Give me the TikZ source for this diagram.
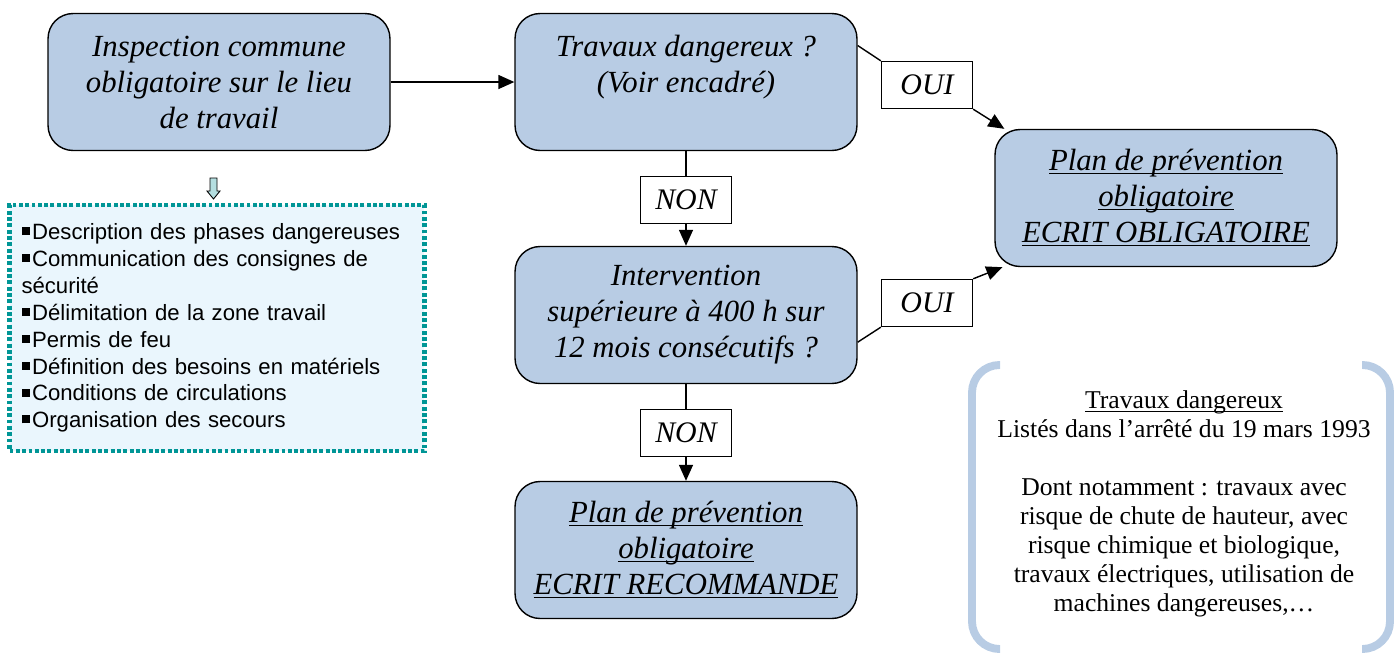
\documentclass[tikz,border=0pt]{standalone}
\usepackage{fontspec}
\setmainfont{Liberation Serif}
\newfontfamily\listfont{Liberation Sans}
\usetikzlibrary{arrows.meta}
\definecolor{boxblue}{RGB}{184,204,228}
\definecolor{listfill}{RGB}{234,246,253}
\definecolor{listline}{RGB}{0,150,150}
\definecolor{notecol}{RGB}{184,204,228}
\definecolor{arrowfill}{RGB}{180,222,224}
\tikzset{
  flowbox/.style={draw,line width=0.8pt,fill=boxblue,rounded corners=0.5cm,
    minimum width=6.84cm,minimum height=2.74cm,align=center,
    font=\itshape\fontsize{17.5}{20.5}\selectfont},
  reply/.style={draw,line width=0.8pt,fill=white,minimum width=1.82cm,
    minimum height=0.94cm,font=\itshape\fontsize{17}{20.5}\selectfont},
  link/.style={line width=0.8pt},
  tip/.style={line width=0.8pt,-{Triangle[length=0.32cm,width=0.28cm]}}
}
\newcommand{\lbul}{\rule[0.2em]{0.36em}{0.36em}\kern1.5pt}
\newcommand{\uln}[1]{\underline{\smash{#1}}\vphantom{#1}}
\begin{document}
\begin{tikzpicture}[x=0.02cm,y=-0.02cm]
  \useasboundingbox (0,0) rectangle (1396,653);
  % flow boxes
  \node[flowbox] (insp) at (219,82) {Inspection commune\\obligatoire sur le lieu\\de travail};
  \node[flowbox] (trav) at (686,82) {Travaux dangereux ?\\(Voir encadré)\\\mbox{}};
  \node[flowbox] (interv) at (686,315) {Intervention\\supérieure à 400 h sur\\12 mois consécutifs ?};
  \node[flowbox] (recom) at (686,550) {\uln{Plan de prévention}\\\uln{obligatoire}\\\uln{ECRIT RECOMMANDE}};
  \node[flowbox] (oblig) at (1166,198) {\uln{Plan de prévention}\\\uln{obligatoire}\\\uln{ECRIT OBLIGATOIRE}};
  % answers
  \node[reply] (non1) at (686,200) {NON};
  \node[reply] (non2) at (686,433) {NON};
  \node[reply] (oui1) at (927,85) {OUI};
  \node[reply] (oui2) at (927,303) {OUI};
  % connectors
  \draw[tip] (insp) -- (trav);
  \draw[link] (trav) -- (non1);
  \draw[tip] (non1) -- (interv);
  \draw[link] (interv) -- (non2);
  \draw[tip] (non2) -- (recom);
  \draw[link] (trav.12) -- (oui1.north west);
  \draw[tip] (oui1.south east) -- ([xshift=0.2cm]oblig.north west);
  \draw[link] (interv.-9) -- (oui2.south west);
  \draw[tip] (oui2.north east) -- ([xshift=0.16cm]oblig.south west);
  % list of the inspection
  \draw[fill=arrowfill,line width=0.5pt] (210,178) -- (217,178) -- (217,191) -- (220,191)
    -- (213.5,199) -- (207,191) -- (210,191) -- cycle;
  \node[draw=listline,fill=listfill,line width=2.6pt,dash pattern=on 2.2pt off 1.4pt,
    minimum width=8.3cm,minimum height=4.92cm,inner xsep=0.24cm,text width=7.82cm,align=left,
    font=\listfont\fontsize{12.6}{15.3}\selectfont] (todo) at (217,328)
    {\lbul Description des phases dangereuses\\
     \lbul Communication des consignes de\\sécurité\\
     \lbul Délimitation de la zone travail\\
     \lbul Permis de feu\\
     \lbul Définition des besoins en matériels\\
     \lbul Conditions de circulations\\
     \lbul Organisation des secours};
  % note on dangerous work
  \draw[notecol,line width=4.5pt,rounded corners=0.55cm] (1000,365) -- (972,365) -- (972,649) -- (1000,649);
  \draw[notecol,line width=4.5pt,rounded corners=0.55cm] (1362,365) -- (1390,365) -- (1390,649) -- (1362,649);
  \node[align=center,font=\fontsize{14.6}{16.5}\selectfont] (note) at (1184,504)
    {\uln{Travaux dangereux}\\Listés dans l’arrêté du 19 mars 1993\\[16.5pt]
     Dont notamment : travaux avec\\risque de chute de hauteur, avec\\risque chimique et biologique,\\
     travaux électriques, utilisation de\\machines dangereuses,…};
\end{tikzpicture}
\end{document}
